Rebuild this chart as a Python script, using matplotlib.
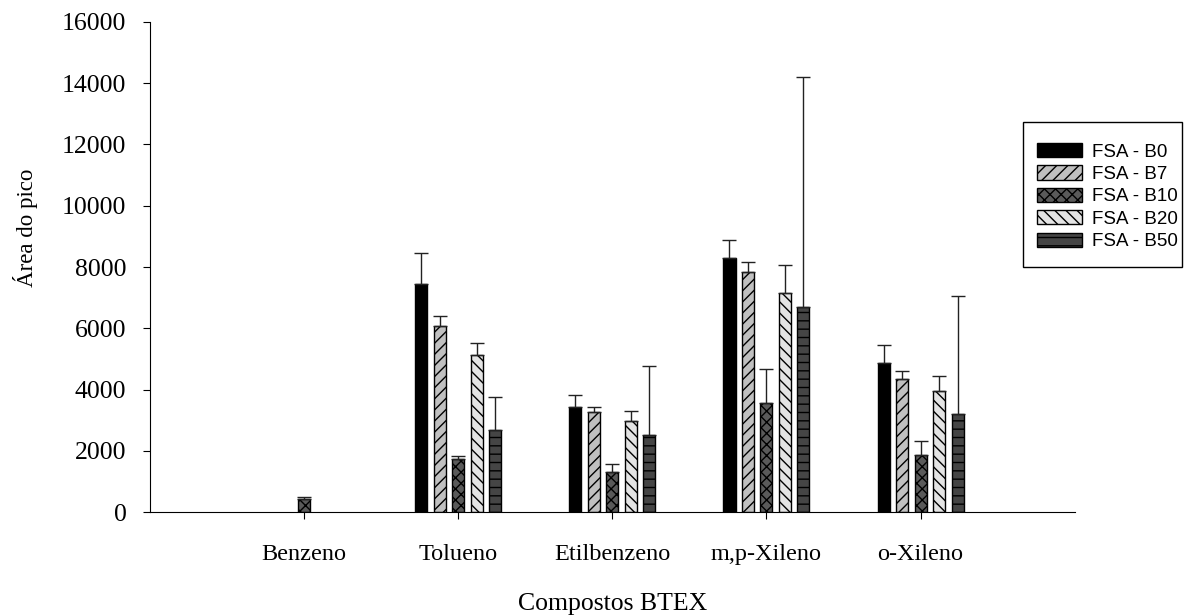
import matplotlib
matplotlib.use('Agg')
import matplotlib.pyplot as plt
from matplotlib.patches import Rectangle
import numpy as np

# dados
compostos = ['Benzeno', 'Tolueno', 'Etilbenzeno', 'm,p-Xileno', 'o-Xileno']
series = ['FSA - B0', 'FSA - B7', 'FSA - B10', 'FSA - B20', 'FSA - B50']
nan = np.nan
b0 = [nan, 7440, 3420, 8280, 4860]
b7 = [nan, 6060, 3260, 7840, 4340]
b10 = [410, 1740, 1310, 3570, 1850]
b20 = [nan, 5120, 2980, 7140, 3950]
b50 = [nan, 2690, 2520, 6700, 3190]
err_b0 = [nan, 1030, 390, 610, 600]
err_b7 = [nan, 340, 180, 320, 250]
err_b10 = [70, 80, 270, 1090, 470]
err_b20 = [nan, 410, 320, 940, 500]
err_b50 = [nan, 1050, 2260, 7500, 3850]

valores = [b0, b7, b10, b20, b50]
erros = [err_b0, err_b7, err_b10, err_b20, err_b50]
cores = ['black', '#c0c0c0', '#5a5a5a', '#e4e4e4', '#454545']
hachuras = [None, '///', 'xxx', '\\\\\\', '--']

plt.rcParams['hatch.linewidth'] = 1.0
plt.rcParams['font.family'] = 'Liberation Serif'

W, H = 1184, 616
fig = plt.figure(figsize=(W / 100, H / 100), dpi=100)
ax = fig.add_axes([0.1267, 0.1688, 0.7810, 0.7955])

x = np.arange(1, len(compostos) + 1)
largura = 0.078
passo = 0.12

for i, (nome, vals, errs) in enumerate(zip(series, valores, erros)):
    pos = x + (i - 2) * passo
    ax.bar(pos, vals, width=largura, color=cores[i], edgecolor='black',
           linewidth=1.0, hatch=hachuras[i], label=nome, zorder=2)
    ax.errorbar(pos, vals, yerr=[np.zeros(len(vals)), errs], fmt='none',
                ecolor='#222222', elinewidth=1.0, capsize=4.7, capthick=1.0,
                zorder=3)

ax.set_xlim(0, 6)
ax.set_ylim(0, 16000)
ax.set_xticks(x)
ax.set_xticklabels(compostos, fontsize=17.5)
ax.set_yticks(np.arange(0, 16001, 2000))
ax.tick_params(axis='y', labelsize=18.5, length=5, pad=12)
ax.tick_params(axis='x', length=5, pad=18)
ax.spines['top'].set_visible(False)
ax.spines['right'].set_visible(False)

ax.set_xlabel('Compostos BTEX', fontsize=18.5)
ax.xaxis.set_label_coords(0.5, -0.165)
ax.set_ylabel('Área do pico', fontsize=16.5)
ax.yaxis.set_label_coords(-0.121, 0.58)

# legenda sem moldura + caixa desenhada à parte
leg = ax.legend(loc='upper left', bbox_to_anchor=(1037 / W, 1 - 143 / H),
                bbox_transform=fig.transFigure, borderaxespad=0, borderpad=0,
                prop={'family': 'Liberation Sans', 'size': 13.5},
                frameon=False, handlelength=2.4, handleheight=0.78,
                labelspacing=0.26, handletextpad=0.55)
fig.patches.append(Rectangle((1023 / W, 1 - 267 / H), 159 / W, 145 / H,
                             transform=fig.transFigure, fill=False,
                             edgecolor='black', linewidth=1.0))

fig.savefig('out.png', dpi=100)
